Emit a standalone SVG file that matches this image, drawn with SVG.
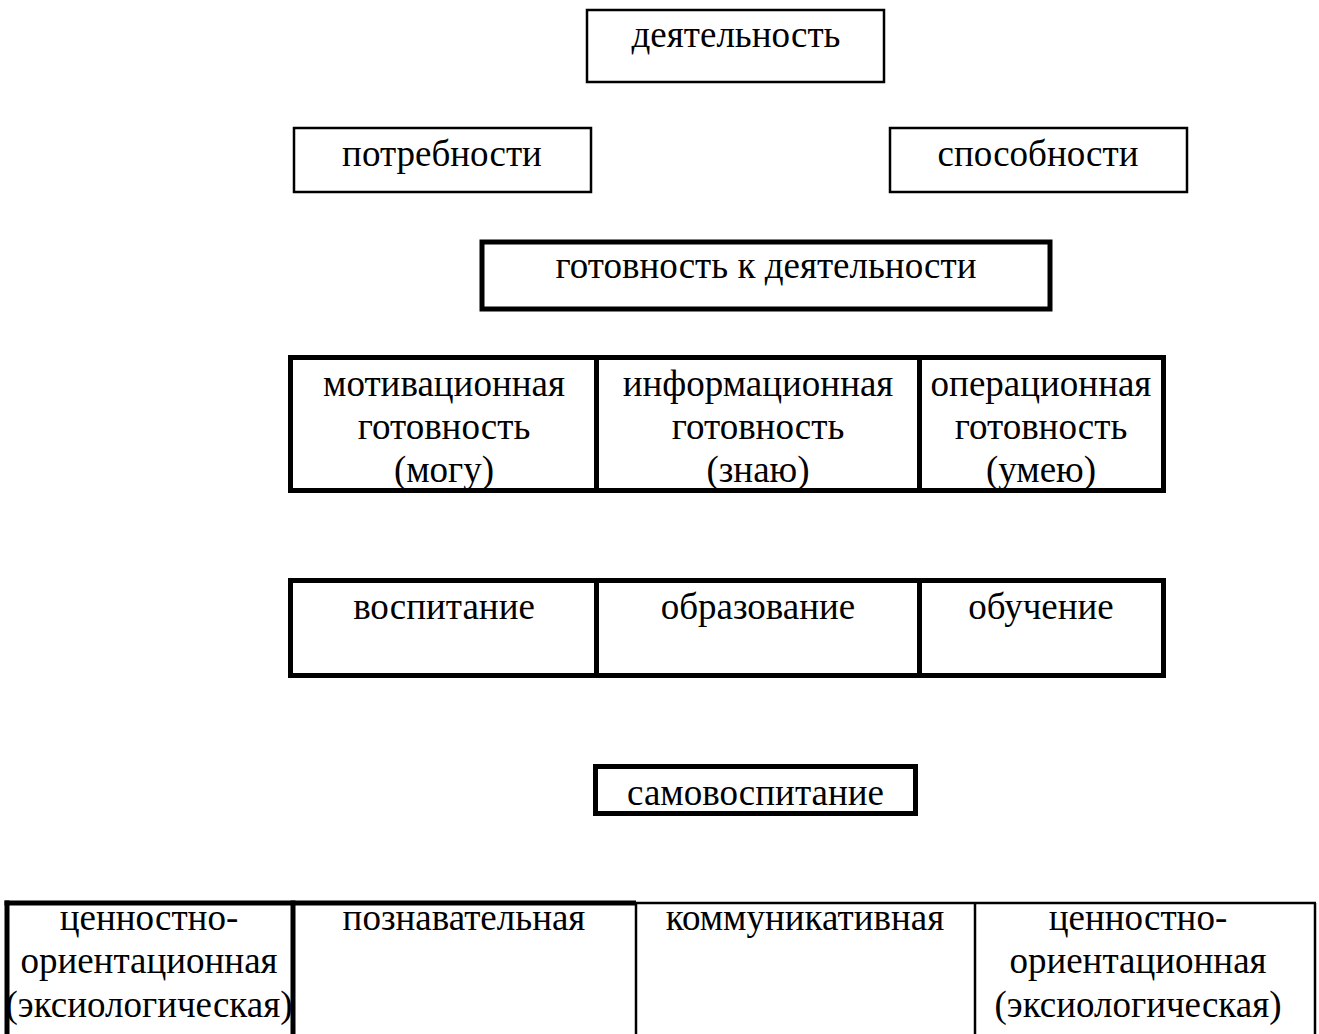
<svg xmlns="http://www.w3.org/2000/svg" width="1319" height="1034" viewBox="0 0 1319 1034">
<style>
.t{font-family:"Liberation Serif","Times New Roman",serif;font-size:37px;fill:#000;text-anchor:middle}
.thin{fill:none;stroke:#000;stroke-width:2.5}
.thick{fill:none;stroke:#000;stroke-width:5}
.tl{stroke:#000;stroke-width:2.5;fill:none}
.kl{stroke:#000;stroke-width:5;fill:none}
</style>
<rect width="1319" height="1034" fill="#fff"/>
<g id="node-deyatelnost">
<rect class="thin" x="587" y="10" width="297" height="72"/>
<text class="t" x="736" y="47">деятельность</text>
</g>
<g id="node-potrebnosti">
<rect class="thin" x="294" y="128" width="297" height="64"/>
<text class="t" x="442" y="166">потребности</text>
</g>
<g id="node-sposobnosti">
<rect class="thin" x="890" y="128" width="297" height="64"/>
<text class="t" x="1038" y="166">способности</text>
</g>
<g id="node-gotovnost">
<rect class="thick" x="482" y="242" width="568" height="67"/>
<text class="t" x="766" y="278">готовность к деятельности</text>
</g>
<g id="node-table-readiness">
<rect class="thick" x="290.5" y="357.5" width="873" height="133"/>
<line class="kl" x1="596.5" y1="357.5" x2="596.5" y2="490.5"/>
<line class="kl" x1="919.5" y1="357.5" x2="919.5" y2="490.5"/>
<text class="t" x="444" y="396">мотивационная</text>
<text class="t" x="444" y="439">готовность</text>
<text class="t" x="444" y="482">(могу)</text>
<text class="t" x="758" y="396">информационная</text>
<text class="t" x="758" y="439">готовность</text>
<text class="t" x="758" y="482">(знаю)</text>
<text class="t" x="1041" y="396">операционная</text>
<text class="t" x="1041" y="439">готовность</text>
<text class="t" x="1041" y="482">(умею)</text>
</g>
<g id="node-table-education">
<rect class="thick" x="290.5" y="580.5" width="873" height="95"/>
<line class="kl" x1="596.5" y1="580.5" x2="596.5" y2="675.5"/>
<line class="kl" x1="919.5" y1="580.5" x2="919.5" y2="675.5"/>
<text class="t" x="444" y="619">воспитание</text>
<text class="t" x="758" y="619">образование</text>
<text class="t" x="1041" y="619">обучение</text>
</g>
<g id="node-samovospitanie">
<rect class="thick" x="595.5" y="766.5" width="320" height="47"/>
<text class="t" x="755.5" y="805">самовоспитание</text>
</g>
<g id="node-table-activity">
<line class="kl" x1="4.5" y1="903" x2="636" y2="903"/>
<line class="tl" x1="636" y1="903" x2="1316" y2="903"/>
<line class="kl" x1="7" y1="900.5" x2="7" y2="1040"/>
<line class="kl" x1="293" y1="900.5" x2="293" y2="1040"/>
<line class="tl" x1="636" y1="903" x2="636" y2="1040"/>
<line class="tl" x1="975" y1="903" x2="975" y2="1040"/>
<line class="tl" x1="1315" y1="903" x2="1315" y2="1040"/>
<text class="t" x="149" y="930">ценностно-</text>
<text class="t" x="149" y="973">ориентационная</text>
<text class="t" x="149" y="1017">(эксиологическая)</text>
<text class="t" x="464" y="930">познавательная</text>
<text class="t" x="805" y="930">коммуникативная</text>
<text class="t" x="1138" y="930">ценностно-</text>
<text class="t" x="1138" y="973">ориентационная</text>
<text class="t" x="1138" y="1017">(эксиологическая)</text>
</g>
<g id="connectors"></g>
</svg>
